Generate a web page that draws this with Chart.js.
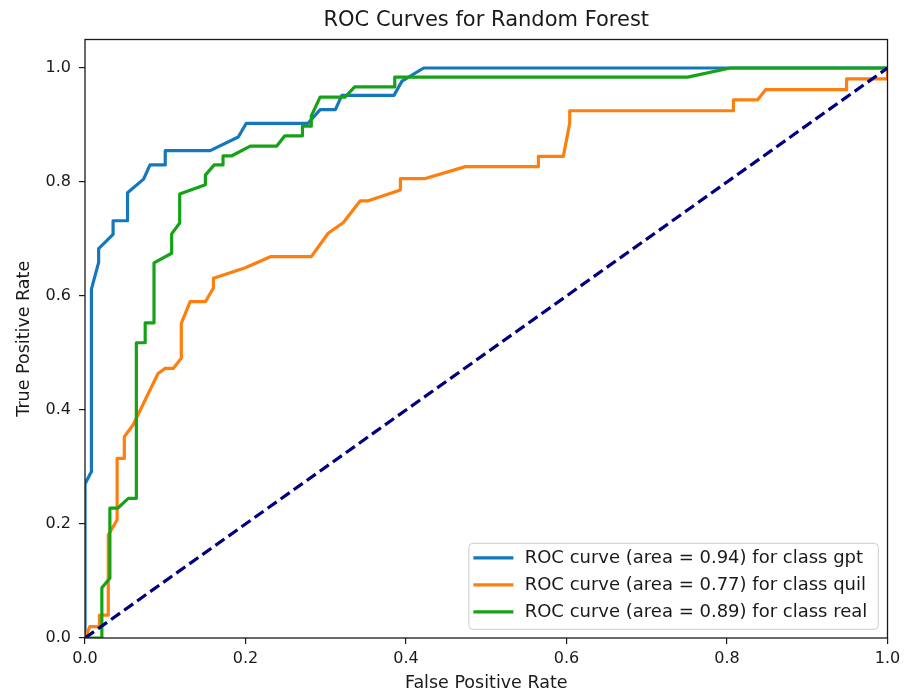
<!DOCTYPE html>
<html>
<head>
<meta charset="utf-8">
<title>ROC Curves for Random Forest</title>
<script src="https://cdn.jsdelivr.net/npm/chart.js@4.4.1/dist/chart.umd.min.js"></script>
<style>
  html, body { margin: 0; padding: 0; background: #fff; }
  #wrap { width: 906px; height: 697px; }
</style>
</head>
<body>
<div id="wrap"><canvas id="rocChart" width="906" height="697"></canvas></div>
<script>
// ROC points (false positive rate / true positive rate) per class
const gptFpr = [0, 0, 0.008, 0.008, 0.017, 0.017, 0.035, 0.035, 0.053, 0.053, 0.073, 0.081, 0.100, 0.100, 0.156, 0.191, 0.201, 0.278, 0.293, 0.312, 0.320, 0.385, 0.395, 0.422, 1.0];
const gptTpr = [0, 0.270, 0.292, 0.612, 0.659, 0.683, 0.708, 0.732, 0.732, 0.781, 0.805, 0.830, 0.830, 0.855, 0.855, 0.879, 0.903, 0.903, 0.927, 0.927, 0.952, 0.952, 0.977, 1.0, 1.0];

const quilFpr = [0, 0.006, 0.018, 0.018, 0.029, 0.029, 0.040, 0.040, 0.049, 0.049, 0.060, 0.091, 0.100, 0.110, 0.120, 0.120, 0.131, 0.150, 0.160, 0.160, 0.199, 0.231, 0.282, 0.303, 0.322, 0.343, 0.353, 0.393, 0.393, 0.424, 0.474, 0.565, 0.565, 0.596, 0.604, 0.604, 0.808, 0.808, 0.838, 0.848, 0.949, 0.949, 1.0, 1.0];
const quilTpr = [0, 0.020, 0.020, 0.040, 0.040, 0.181, 0.207, 0.315, 0.315, 0.353, 0.374, 0.464, 0.473, 0.473, 0.491, 0.552, 0.590, 0.590, 0.614, 0.631, 0.649, 0.669, 0.669, 0.710, 0.729, 0.767, 0.767, 0.786, 0.806, 0.806, 0.827, 0.827, 0.845, 0.845, 0.903, 0.925, 0.925, 0.944, 0.944, 0.962, 0.962, 0.981, 0.981, 1.0];

const realFpr = [0, 0.021, 0.021, 0.031, 0.031, 0.041, 0.054, 0.064, 0.064, 0.075, 0.075, 0.086, 0.086, 0.108, 0.108, 0.118, 0.118, 0.150, 0.150, 0.161, 0.172, 0.172, 0.183, 0.206, 0.239, 0.249, 0.271, 0.271, 0.282, 0.282, 0.293, 0.324, 0.336, 0.386, 0.386, 0.751, 0.804, 1.0];
const realTpr = [0, 0, 0.088, 0.105, 0.228, 0.228, 0.245, 0.245, 0.518, 0.518, 0.553, 0.553, 0.658, 0.675, 0.709, 0.728, 0.779, 0.795, 0.812, 0.830, 0.830, 0.846, 0.846, 0.863, 0.863, 0.881, 0.881, 0.898, 0.898, 0.916, 0.949, 0.949, 0.967, 0.967, 0.984, 0.984, 1.0, 1.0];

const classNames = ['gpt', 'quil', 'real'];
const aucValues = [0.94, 0.77, 0.89];
const chanceLine = [0, 1];

const xTicks = [0, 0.2, 0.4, 0.6, 0.8, 1.0];
const yTicks = [0, 0.2, 0.4, 0.6, 0.8, 1.0];

const lineColors = ['#1578bf', '#ff7f0e', '#16a216'];
const FONT = "'DejaVu Sans', 'Liberation Sans', sans-serif";
const INK = '#1a1a1a';

Chart.defaults.font.family = FONT;
Chart.defaults.color = INK;

function toPoints(xs, ys) {
  return xs.map((x, i) => ({ x: x, y: ys[i] }));
}

const curves = [[gptFpr, gptTpr], [quilFpr, quilTpr], [realFpr, realTpr]];

const datasets = curves.map((c, i) => ({
  label: `ROC curve (area = ${aucValues[i].toFixed(2)}) for class ${classNames[i]}`,
  data: toPoints(c[0], c[1]),
  borderColor: lineColors[i],
  borderWidth: 3.2,
  borderJoinStyle: 'round',
  pointRadius: 0,
  tension: 0,
  order: 3 - i,
  inLegend: true
}));

datasets.push({
  label: 'chance',
  data: toPoints(chanceLine, chanceLine),
  borderColor: '#000080',
  borderWidth: 3.2,
  borderDash: [11, 5],
  pointRadius: 0,
  order: 0,
  inLegend: false
});

// box around the plot area
const frame = {
  id: 'frame',
  afterDatasetsDraw(chart) {
    const { ctx, chartArea: a } = chart;
    ctx.save();
    ctx.strokeStyle = INK;
    ctx.lineWidth = 1.3;
    ctx.strokeRect(a.left, a.top, a.right - a.left, a.bottom - a.top);
    ctx.restore();
  }
};

// legend in the lower right corner of the plot area
const cornerLegend = {
  id: 'cornerLegend',
  afterDraw(chart) {
    const { ctx, chartArea: a } = chart;
    const items = chart.data.datasets.filter(d => d.inLegend);
    ctx.save();
    ctx.font = '18px ' + FONT;
    const textW = Math.max(...items.map(d => ctx.measureText(d.label).width));
    const handleW = 40, padL = 4.5, gap = 11.3, padR = 11;
    const rowH = 27, boxH = 86;
    const boxW = padL + handleW + gap + textW + padR;
    const right = a.right - 9.2, bottom = a.bottom - 8.7;
    const left = right - boxW, top = bottom - boxH;

    ctx.beginPath();
    ctx.roundRect(left, top, boxW, boxH, 4);
    ctx.fillStyle = 'rgba(255,255,255,0.8)';
    ctx.fill();
    ctx.strokeStyle = '#cccccc';
    ctx.lineWidth = 1;
    ctx.stroke();

    ctx.textBaseline = 'middle';
    ctx.textAlign = 'left';
    items.forEach((d, i) => {
      const y = top + 14.5 + i * rowH;
      ctx.beginPath();
      ctx.moveTo(left + padL, y);
      ctx.lineTo(left + padL + handleW, y);
      ctx.strokeStyle = d.borderColor;
      ctx.lineWidth = 3.2;
      ctx.stroke();
      ctx.fillStyle = INK;
      ctx.fillText(d.label, left + padL + handleW + gap, y + 1);
    });
    ctx.restore();
  }
};

new Chart(document.getElementById('rocChart'), {
  type: 'line',
  data: { datasets: datasets },
  options: {
    responsive: false,
    devicePixelRatio: 1,
    animation: false,
    layout: { padding: { left: 0, right: 18.5, top: 0, bottom: 0 } },
    plugins: {
      legend: { display: false },
      tooltip: { enabled: false },
      title: {
        display: true,
        text: 'ROC Curves for Random Forest',
        fullSize: false,
        color: INK,
        font: { size: 21, weight: 'normal' },
        padding: { top: 8, bottom: 6.3 }
      }
    },
    scales: {
      x: {
        type: 'linear',
        min: 0,
        max: 1,
        afterBuildTicks: s => { s.ticks = xTicks.map(v => ({ value: v })); },
        afterFit: s => { s.height = 59; },
        ticks: { autoSkip: false, maxRotation: 0, padding: 5, font: { size: 16 }, callback: v => v.toFixed(1) },
        grid: { drawOnChartArea: false, drawTicks: true, tickLength: 6, color: INK, lineWidth: 1.2 },
        border: { display: false },
        title: { display: true, text: 'False Positive Rate', font: { size: 17.5 }, padding: { top: 0, bottom: 3 } }
      },
      y: {
        type: 'linear',
        min: 0,
        max: 1.05,
        afterBuildTicks: s => { s.ticks = yTicks.map(v => ({ value: v })); },
        afterFit: s => { s.width = 85; },
        ticks: { autoSkip: false, padding: 8, font: { size: 16 }, callback: v => v.toFixed(1) },
        grid: { drawOnChartArea: false, drawTicks: true, tickLength: 6, color: INK, lineWidth: 1.2 },
        border: { display: false },
        title: { display: true, text: 'True Positive Rate', font: { size: 17.5 }, padding: { top: 14, bottom: 0 } }
      }
    }
  },
  plugins: [frame, cornerLegend]
});
</script>
</body>
</html>
